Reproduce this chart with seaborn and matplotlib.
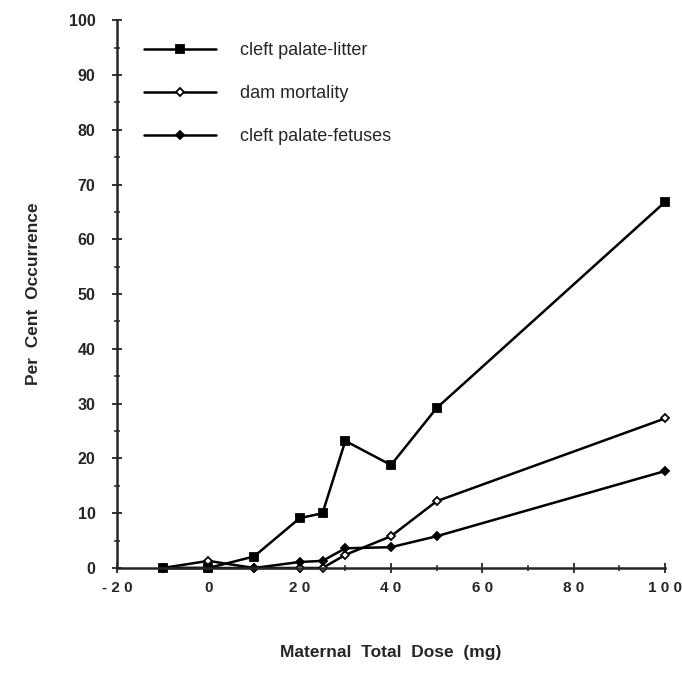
import numpy as np
import pandas as pd
import matplotlib
matplotlib.use("Agg")
import matplotlib.pyplot as plt
import seaborn as sns
from matplotlib.ticker import MultipleLocator

sns.set_style("ticks")
plt.rcParams['font.family'] = ['Liberation Sans', 'DejaVu Sans']

# data
dose = [-10, 0, 10, 20, 25, 30, 40, 50, 100]
litter = [0, 0, 2.1, 9.1, 10.0, 23.2, 18.8, 29.2, 66.8]
dam = [0, 1.3, 0, 0, 0, 2.4, 5.8, 12.2, 27.3]
fetuses = [0, 0, 0, 1.1, 1.3, 3.6, 3.8, 5.8, 17.7]

series = [
    ("cleft palate-litter", litter, "s", 6, "black"),
    ("dam mortality", dam, "D", 4.2, "white"),
    ("cleft palate-fetuses", fetuses, "D", 4.5, "black"),
]

fig = plt.figure(figsize=(6.82, 6.73), dpi=100)
ax = fig.add_axes([0.1716, 0.156, 0.8034, 0.814])

for name, vals, mk, ms, fc in series:
    df = pd.DataFrame({"dose": dose, "pct": vals})
    sns.lineplot(data=df, x="dose", y="pct", ax=ax, color="black", lw=1.8,
                 marker=mk, markersize=ms, markerfacecolor=fc,
                 markeredgecolor="black", markeredgewidth=1.3, label=name,
                 clip_on=False)

ax.set_xlim(-20, 100)
ax.set_ylim(0, 100)
ax.xaxis.set_major_locator(MultipleLocator(20))
ax.xaxis.set_minor_locator(MultipleLocator(10))
ax.yaxis.set_major_locator(MultipleLocator(10))
ax.yaxis.set_minor_locator(MultipleLocator(5))
sns.despine(ax=ax)
for s in ["left", "bottom"]:
    ax.spines[s].set_linewidth(1.8)
ax.tick_params(which="major", direction="inout", length=7, width=1.3)
ax.tick_params(which="minor", direction="inout", length=4, width=1.1)
ax.tick_params(axis="x", pad=6)
ax.tick_params(axis="y", pad=12)

xlabs = ["- 2 0", "0", "2 0", "4 0", "6 0", "8 0", "1 0 0"]
ax.set_xticks([-20, 0, 20, 40, 60, 80, 100])
ax.set_xticklabels(xlabs, fontsize=11, fontweight="bold")
for t in ax.get_yticklabels():
    t.set_fontweight("bold")
    t.set_fontsize(11.5)

ax.set_xlabel("Maternal  Total  Dose  (mg)", fontsize=12.5, fontweight="bold",
              labelpad=36)
ax.set_ylabel("Per  Cent  Occurrence", fontsize=12.5, fontweight="bold",
              labelpad=20)

leg = ax.legend(loc="upper left", bbox_to_anchor=(0.02, 0.99), frameon=False,
                handlelength=4.0, handletextpad=1.3, labelspacing=1.45,
                fontsize=13)

fig.savefig("out.png", dpi=100)
